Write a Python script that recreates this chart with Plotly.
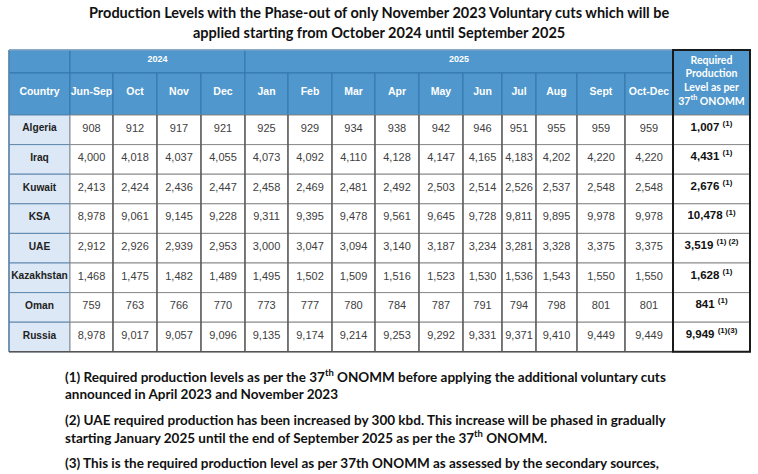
import plotly.graph_objects as go

# ---------------- data ----------------
title_lines = [
    "Production Levels with the Phase-out of only November 2023 Voluntary cuts which will be",
    "applied starting from October 2024 until September 2025",
]
year_groups = [("2024", 4), ("2025", 10)]
periods = ["Jun-Sep", "Oct", "Nov", "Dec", "Jan", "Feb", "Mar", "Apr", "May",
           "Jun", "Jul", "Aug", "Sept", "Oct-Dec"]
countries = ["Algeria", "Iraq", "Kuwait", "KSA", "UAE", "Kazakhstan", "Oman", "Russia"]
algeria = [908, 912, 917, 921, 925, 929, 934, 938, 942, 946, 951, 955, 959, 959]
iraq = [4000, 4018, 4037, 4055, 4073, 4092, 4110, 4128, 4147, 4165, 4183, 4202, 4220, 4220]
kuwait = [2413, 2424, 2436, 2447, 2458, 2469, 2481, 2492, 2503, 2514, 2526, 2537, 2548, 2548]
ksa = [8978, 9061, 9145, 9228, 9311, 9395, 9478, 9561, 9645, 9728, 9811, 9895, 9978, 9978]
uae = [2912, 2926, 2939, 2953, 3000, 3047, 3094, 3140, 3187, 3234, 3281, 3328, 3375, 3375]
kazakhstan = [1468, 1475, 1482, 1489, 1495, 1502, 1509, 1516, 1523, 1530, 1536, 1543, 1550, 1550]
oman = [759, 763, 766, 770, 773, 777, 780, 784, 787, 791, 794, 798, 801, 801]
russia = [8978, 9017, 9057, 9096, 9135, 9174, 9214, 9253, 9292, 9331, 9371, 9410, 9449, 9449]
values = [algeria, iraq, kuwait, ksa, uae, kazakhstan, oman, russia]
required = [1007, 4431, 2676, 10478, 3519, 1628, 841, 9949]
required_notes = ["(1)", "(1)", "(1)", "(1)", "(1) (2)", "(1)", "(1)", "(1)(3)"]
country_header = "Country"
required_header = "Required<br>Production<br>Level as per<br>37<sup>th</sup> ONOMM"
footnotes = [
    "(1) Required production levels as per the 37<sup>th</sup> ONOMM before applying the additional voluntary cuts<br>announced in April 2023 and November 2023",
    "(2) UAE required production has been increased by 300 kbd. This increase will be phased in gradually<br>starting January 2025 until the end of September 2025 as per the 37<sup>th</sup> ONOMM.",
    "(3) This is the required production level as per 37th ONOMM as assessed by the secondary sources,",
]

# ---------------- layout geometry (pixels) ----------------
W, H = 758, 474
col_edges = [9, 70, 113, 157, 201, 245, 288, 332, 375, 419, 463, 502, 536, 577, 625, 673, 750]
hdr_edges = [50, 73, 115]
row_h = 29.6
body_top = hdr_edges[-1]
row_edges = [body_top + i * row_h for i in range(len(countries) + 1)]

HDR_FILL = "#4f97cc"
HDR_LINE = "#3577ac"
COL0_FILL = "#dce8f5"
COL0_LINE = "#5f87ad"
TXT_FONT = "Liberation Sans, Arial, sans-serif"
NOTE_FONT = "Lato, Noto Sans, sans-serif"

shapes = []

def rect(x0, y0, x1, y1, fill, line, width=1):
    shapes.append(dict(type="rect", xref="x", yref="y", x0=x0, y0=y0, x1=x1, y1=y1,
                       fillcolor=fill, line=dict(color=line, width=width), layer="below"))

# header cells
rect(col_edges[0], hdr_edges[0], col_edges[1], hdr_edges[1], HDR_FILL, HDR_LINE)
rect(col_edges[0], hdr_edges[1], col_edges[1], hdr_edges[2], HDR_FILL, HDR_LINE)
ci = 1
group_centers = []
for name, span in year_groups:
    rect(col_edges[ci], hdr_edges[0], col_edges[ci + span], hdr_edges[1], HDR_FILL, HDR_LINE)
    group_centers.append(((col_edges[ci] + col_edges[ci + span]) / 2, name))
    ci += span
for j in range(len(periods)):
    rect(col_edges[j + 1], hdr_edges[1], col_edges[j + 2], hdr_edges[2], HDR_FILL, HDR_LINE)
rect(col_edges[-2], hdr_edges[0], col_edges[-1], hdr_edges[2], HDR_FILL, HDR_LINE)

# body cells
for i in range(len(countries)):
    y0, y1 = row_edges[i], row_edges[i + 1]
    rect(col_edges[0], y0, col_edges[1], y1, COL0_FILL, COL0_LINE)
    for j in range(len(periods)):
        rect(col_edges[j + 1], y0, col_edges[j + 2], y1, "white", "#8a8a8a")
    rect(col_edges[-2], y0, col_edges[-1], y1, "white", "#8a8a8a")

# vertical separators darker in body
for j in range(2, len(col_edges) - 1):
    shapes.append(dict(type="line", xref="x", yref="y", x0=col_edges[j], x1=col_edges[j],
                       y0=row_edges[0], y1=row_edges[-1], line=dict(color="#3a3a3a", width=1)))
# outer borders
shapes.append(dict(type="line", xref="x", yref="y", x0=col_edges[0], x1=col_edges[0],
                   y0=hdr_edges[0], y1=row_edges[-1], line=dict(color=COL0_LINE, width=1.5)))
shapes.append(dict(type="line", xref="x", yref="y", x0=col_edges[0], x1=col_edges[-2],
                   y0=row_edges[-1], y1=row_edges[-1], line=dict(color="#555555", width=1.5)))
shapes.append(dict(type="line", xref="x", yref="y", x0=col_edges[0], x1=col_edges[-2],
                   y0=hdr_edges[0], y1=hdr_edges[0], line=dict(color="#7fa6c4", width=1.5)))
# thick frame around required column
shapes.append(dict(type="rect", xref="x", yref="y", x0=col_edges[-2], x1=col_edges[-1],
                   y0=hdr_edges[0], y1=row_edges[-1], line=dict(color="#1a1a1a", width=2)))

fig = go.Figure()

# header texts
hx = [c for c, _ in group_centers]
ht = [n for _, n in group_centers]
fig.add_trace(go.Scatter(x=hx, y=[(hdr_edges[0] + hdr_edges[1]) / 2 - 2] * len(hx), text=ht,
                         mode="text", textfont=dict(family=TXT_FONT, size=9, color="white", weight="bold"),
                         hoverinfo="skip"))
mid2 = (hdr_edges[1] + hdr_edges[2]) / 2 - 2
px = [(col_edges[0] + col_edges[1]) / 2] + [(col_edges[j + 1] + col_edges[j + 2]) / 2 for j in range(len(periods))]
fig.add_trace(go.Scatter(x=px, y=[mid2] * len(px), text=[country_header] + periods,
                         mode="text", textfont=dict(family=TXT_FONT, size=10.5, color="white", weight="bold"),
                         hoverinfo="skip"))
fig.add_trace(go.Scatter(x=[(col_edges[-2] + col_edges[-1]) / 2], y=[(hdr_edges[0] + hdr_edges[2]) / 2 - 1],
                         text=[required_header], mode="text",
                         textfont=dict(family=NOTE_FONT, size=10.5, color="white", weight="bold"),
                         hoverinfo="skip"))

# body texts
cx, cy, ct = [], [], []
nx, ny, nt = [], [], []
rx, ry, rt = [], [], []
for i, c in enumerate(countries):
    ym = (row_edges[i] + row_edges[i + 1]) / 2 - 1
    cx.append((col_edges[0] + col_edges[1]) / 2); cy.append(ym); ct.append(c)
    for j, v in enumerate(values[i]):
        nx.append((col_edges[j + 1] + col_edges[j + 2]) / 2); ny.append(ym); nt.append(f"{v:,}")
    rx.append((col_edges[-2] + col_edges[-1]) / 2); ry.append(ym - 1)
    rt.append(f"{required[i]:,} <sup>{required_notes[i]}</sup>")

fig.add_trace(go.Scatter(x=cx, y=cy, text=ct, mode="text",
                         textfont=dict(family=TXT_FONT, size=10.2, color="#222222", weight="bold"),
                         hoverinfo="skip"))
fig.add_trace(go.Scatter(x=nx, y=ny, text=nt, mode="text",
                         textfont=dict(family=TXT_FONT, size=11, color="#404040"),
                         hoverinfo="skip"))
fig.add_trace(go.Scatter(x=rx, y=ry, text=rt, mode="text",
                         textfont=dict(family=TXT_FONT, size=11.5, color="#111111", weight="bold"),
                         hoverinfo="skip"))

annotations = []
for k, line in enumerate(title_lines):
    annotations.append(dict(x=0.5, xref="paper", y=12 + k * 20, yref="y", text=line, showarrow=False,
                            xanchor="center", yanchor="middle",
                            font=dict(family=NOTE_FONT, size=14.5, color="#111111", weight="bold")))
foot_y = [384, 429, 463]
for k, t in enumerate(footnotes):
    annotations.append(dict(x=63, xref="x", y=foot_y[k], yref="y", text=t, showarrow=False,
                            xanchor="left", yanchor="middle", align="left",
                            font=dict(family=NOTE_FONT, size=13.5, color="#111111", weight="bold")))

fig.update_layout(
    width=W, height=H, margin=dict(l=0, r=0, t=0, b=0),
    paper_bgcolor="white", plot_bgcolor="white", showlegend=False,
    xaxis=dict(range=[0, W], visible=False, fixedrange=True),
    yaxis=dict(range=[H, 0], visible=False, fixedrange=True),
    shapes=shapes, annotations=annotations,
)
fig.write_html("out.html", config={"displayModeBar": False},
               post_script="document.body.style.margin='0';document.body.style.overflow='hidden';")
